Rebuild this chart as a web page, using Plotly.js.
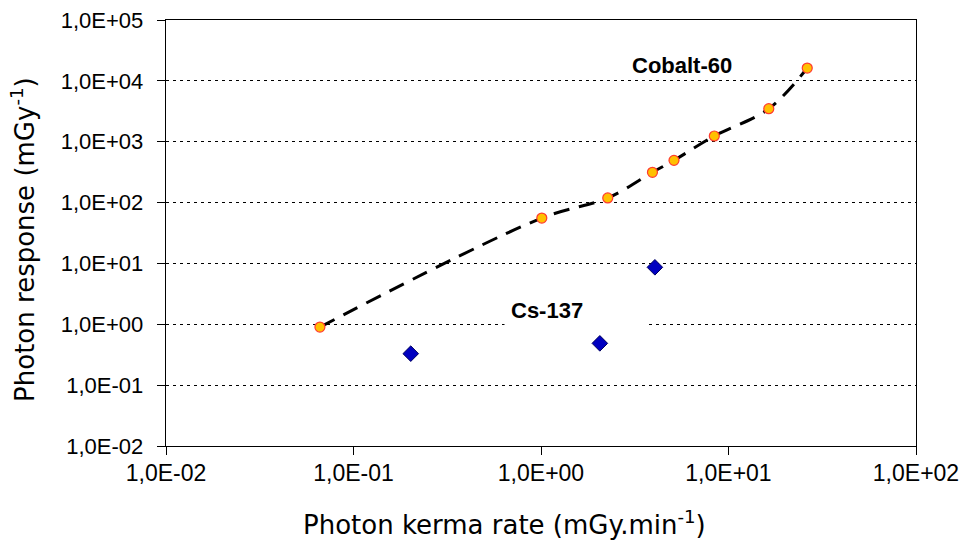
<!DOCTYPE html>
<html>
<head>
<meta charset="utf-8">
<script src="https://cdn.plot.ly/plotly-3.0.1.min.js"></script>
<style>
html,body{margin:0;padding:0;background:#fff;}
#chart{width:963px;height:547px;}
/* move y tick labels slightly further from the axis, as in the reference */
#chart .ytick text{translate:-9px 0;}
#chart .xtick text{translate:0 -2px;}
</style>
</head>
<body>
<div id="chart"></div>
<script>
// Cobalt-60 data (photon kerma rate mGy/min, photon response mGy^-1)
const coX = [0.0662, 1.01, 2.27, 3.93, 5.12, 8.4, 16.4, 26.3];
const coY = [0.90, 55.7, 119, 314, 494, 1241, 3486, 16250];
// Cs-137 data
const csX = [0.202, 2.06, 4.05];
const csY = [0.329, 0.486, 8.63];
// Tick values / labels
const xTickVals = [0.01, 0.1, 1, 10, 100];
const xTickText = ["1,0E-02", "1,0E-01", "1,0E+00", "1,0E+01", "1,0E+02"];
const yTickVals = [0.01, 0.1, 1, 10, 100, 1000, 10000, 100000];
const yTickText = ["1,0E-02", "1,0E-01", "1,0E+00", "1,0E+01", "1,0E+02", "1,0E+03", "1,0E+04", "1,0E+05"];

const titleFont = {family: 'DejaVu Sans, Verdana, sans-serif', size: 26, color: '#000'};

const traces = [
  {
    x: coX, y: coY, type: 'scatter', mode: 'lines',
    line: {color: '#000', width: 3, dash: '16px,10px', shape: 'spline', smoothing: 1},
    hoverinfo: 'skip', showlegend: false
  },
  {
    x: coX, y: coY, type: 'scatter', mode: 'markers',
    marker: {symbol: 'circle', size: 10, color: '#FFC000', line: {color: '#FF3B2F', width: 1.2}},
    showlegend: false
  },
  {
    x: csX, y: csY, type: 'scatter', mode: 'markers',
    marker: {symbol: 'diamond', size: 12, color: '#0000C0', line: {color: '#000060', width: 1}},
    showlegend: false
  }
];

const layout = {
  width: 963, height: 547,
  margin: {l: 166, r: 47, t: 20, b: 101},
  paper_bgcolor: '#fff', plot_bgcolor: '#fff',
  font: {family: 'Liberation Sans, Arial, sans-serif', color: '#000'},
  xaxis: {
    type: 'log', range: [-2, 2],
    tickvals: xTickVals, ticktext: xTickText,
    tickfont: {family: 'Liberation Sans, Arial, sans-serif', size: 23, color: '#000'},
    ticks: 'outside', ticklen: 8, tickwidth: 1, tickcolor: '#000',
    showline: true, linecolor: '#000', linewidth: 1.3, mirror: true,
    showgrid: false, zeroline: false
  },
  yaxis: {
    type: 'log', range: [-2, 5],
    tickvals: yTickVals, ticktext: yTickText,
    tickfont: {family: 'Liberation Sans, Arial, sans-serif', size: 22, color: '#000'},
    ticks: 'outside', ticklen: 8, tickwidth: 1, tickcolor: '#000',
    showline: true, linecolor: '#000', linewidth: 1.3, mirror: true,
    showgrid: true, gridcolor: '#000', gridwidth: 1, griddash: '3px,4px',
    zeroline: false
  },
  annotations: [
    {x: 0.4507, y: -0.181, xref: 'paper', yref: 'paper', xanchor: 'center', yanchor: 'middle',
     text: 'Photon kerma rate (mGy.min<sup>-1</sup>)', showarrow: false, font: titleFont},
    {x: -0.19, y: 0.485, xref: 'paper', yref: 'paper', xanchor: 'center', yanchor: 'middle',
     text: 'Photon response (mGy<sup>-1</sup>)', textangle: -90, showarrow: false, font: titleFont},
    {x: 0.752, y: 4.26, xref: 'x', yref: 'y', text: '<b>Cobalt-60</b>', showarrow: false,
     font: {family: 'Liberation Sans, Arial, sans-serif', size: 22, color: '#000'}},
    {x: 0.187, y: 0.235, xref: 'x', yref: 'y', text: '<b>Cs-137</b>', showarrow: false,
     bgcolor: '#fff', width: 130, height: 30, borderpad: 6, align: 'left',
     font: {family: 'Liberation Sans, Arial, sans-serif', size: 22, color: '#000'}}
  ]
};

Plotly.newPlot('chart', traces, layout, {displayModeBar: false, staticPlot: true});
</script>
</body>
</html>
